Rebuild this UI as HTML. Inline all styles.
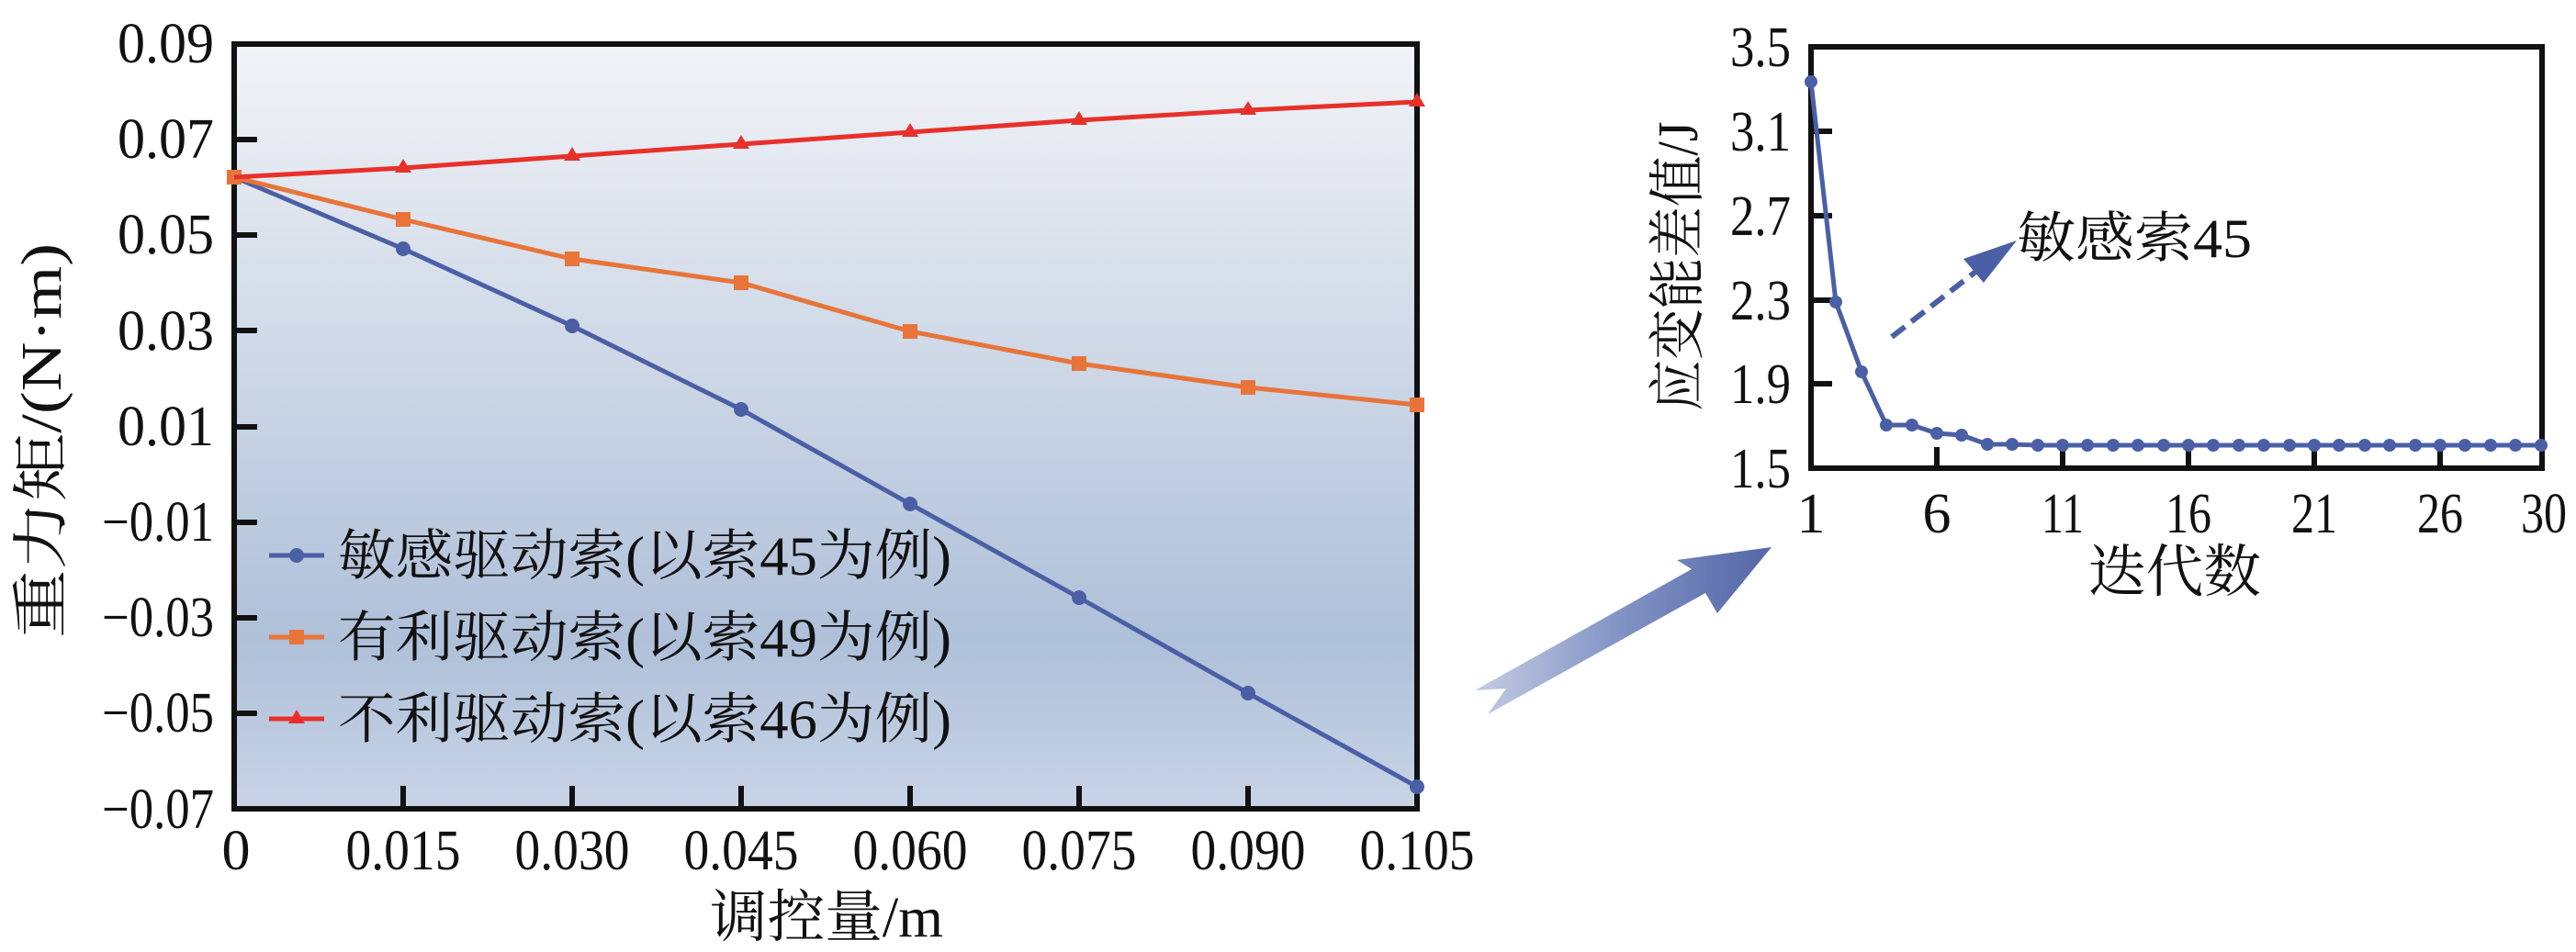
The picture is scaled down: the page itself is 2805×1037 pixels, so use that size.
<!DOCTYPE html>
<html><head><meta charset="utf-8"><style>
html,body{margin:0;padding:0;background:#fff;}
svg{display:block}
text{font-family:"Liberation Serif","Noto Serif CJK SC",serif;fill:#111;}
</style></head><body>
<svg width="2805" height="1037" viewBox="0 0 2805 1037" xmlns="http://www.w3.org/2000/svg">
<defs>
<linearGradient id="bg" x1="0" y1="0" x2="0" y2="1">
<stop offset="0" stop-color="#f2f3f7"/>
<stop offset="0.35" stop-color="#d3dce9"/>
<stop offset="0.78" stop-color="#afc0d9"/>
<stop offset="1" stop-color="#c8d4e6"/>
</linearGradient>
<linearGradient id="ar" x1="0" y1="0" x2="1" y2="0">
<stop offset="0" stop-color="#c5cde4"/>
<stop offset="0.5" stop-color="#8092c4"/>
<stop offset="1" stop-color="#5466a6"/>
</linearGradient>
</defs>

<rect x="255" y="48" width="1288" height="833" fill="url(#bg)"/>
<g stroke="#111" stroke-width="6">
<line x1="255" y1="152" x2="280" y2="152"/><line x1="255" y1="256" x2="280" y2="256"/>
<line x1="255" y1="360" x2="280" y2="360"/><line x1="255" y1="465" x2="280" y2="465"/>
<line x1="255" y1="569" x2="280" y2="569"/><line x1="255" y1="673" x2="280" y2="673"/>
<line x1="255" y1="777" x2="280" y2="777"/>
<line x1="439" y1="881" x2="439" y2="856"/><line x1="623" y1="881" x2="623" y2="856"/>
<line x1="807" y1="881" x2="807" y2="856"/><line x1="991" y1="881" x2="991" y2="856"/>
<line x1="1175" y1="881" x2="1175" y2="856"/><line x1="1359" y1="881" x2="1359" y2="856"/>
</g>
<rect x="255" y="48" width="1288" height="833" fill="none" stroke="#111" stroke-width="6"/>

<polyline fill="none" stroke="#4a5fa5" stroke-width="5" points="255,193 439,271 623,355 807,446 991,549 1175,651 1359,755 1543,857"/>
<g fill="#4a5fa5"><circle cx="439" cy="271" r="8"/><circle cx="623" cy="355" r="8"/><circle cx="807" cy="446" r="8"/><circle cx="991" cy="549" r="8"/><circle cx="1175" cy="651" r="8"/><circle cx="1359" cy="755" r="8"/><circle cx="1543" cy="857" r="8"/></g>
<polyline fill="none" stroke="#e8743a" stroke-width="5" points="255,193 439,239 623,282 807,308 991,361 1175,396 1359,422 1543,441"/>
<g fill="#e8743a"><rect x="431" y="231" width="16" height="16"/><rect x="615" y="274" width="16" height="16"/><rect x="799" y="300" width="16" height="16"/><rect x="983" y="353" width="16" height="16"/><rect x="1167" y="388" width="16" height="16"/><rect x="1351" y="414" width="16" height="16"/><rect x="1535" y="433" width="16" height="16"/><rect x="247" y="185" width="16" height="16"/></g>
<polyline fill="none" stroke="#e8302a" stroke-width="5" points="255,193 439,183 623,170 807,157 991,144 1175,131 1359,120 1543,111"/>
<g fill="#e8302a"><path d="M439,173 l9,15 h-18z"/><path d="M623,160 l9,15 h-18z"/><path d="M807,147 l9,15 h-18z"/><path d="M991,134 l9,15 h-18z"/><path d="M1175,121 l9,15 h-18z"/><path d="M1359,110 l9,15 h-18z"/><path d="M1543,101 l9,15 h-18z"/></g>

<line x1="293" y1="605" x2="353" y2="605" stroke="#4a5fa5" stroke-width="5"/><circle cx="323" cy="605" r="8" fill="#4a5fa5"/>
<line x1="293" y1="694" x2="353" y2="694" stroke="#e8743a" stroke-width="5"/><rect x="315" y="686" width="16" height="16" fill="#e8743a"/>
<line x1="293" y1="783" x2="353" y2="783" stroke="#e8302a" stroke-width="5"/><path d="M323,773 l9,15 h-18z" fill="#e8302a"/>
<g font-size="60">
<text x="368" y="626" textLength="668" lengthAdjust="spacingAndGlyphs">敏感驱动索(以索45为例)</text>
<text x="368" y="715" textLength="668" lengthAdjust="spacingAndGlyphs">有利驱动索(以索49为例)</text>
<text x="368" y="804" textLength="668" lengthAdjust="spacingAndGlyphs">不利驱动索(以索46为例)</text>
</g>

<g font-size="62" text-anchor="end">
<text x="233" y="68" textLength="105" lengthAdjust="spacingAndGlyphs">0.09</text>
<text x="233" y="172" textLength="105" lengthAdjust="spacingAndGlyphs">0.07</text>
<text x="233" y="276" textLength="105" lengthAdjust="spacingAndGlyphs">0.05</text>
<text x="233" y="381" textLength="105" lengthAdjust="spacingAndGlyphs">0.03</text>
<text x="233" y="485" textLength="105" lengthAdjust="spacingAndGlyphs">0.01</text>
<text x="233" y="589" textLength="122" lengthAdjust="spacingAndGlyphs">−0.01</text>
<text x="233" y="693" textLength="122" lengthAdjust="spacingAndGlyphs">−0.03</text>
<text x="233" y="797" textLength="122" lengthAdjust="spacingAndGlyphs">−0.05</text>
<text x="233" y="902" textLength="122" lengthAdjust="spacingAndGlyphs">−0.07</text>
</g>
<g font-size="62" text-anchor="middle">
<text x="257" y="947">0</text>
<text x="439" y="947" textLength="125" lengthAdjust="spacingAndGlyphs">0.015</text>
<text x="623" y="947" textLength="125" lengthAdjust="spacingAndGlyphs">0.030</text>
<text x="807" y="947" textLength="125" lengthAdjust="spacingAndGlyphs">0.045</text>
<text x="991" y="947" textLength="125" lengthAdjust="spacingAndGlyphs">0.060</text>
<text x="1175" y="947" textLength="125" lengthAdjust="spacingAndGlyphs">0.075</text>
<text x="1359" y="947" textLength="125" lengthAdjust="spacingAndGlyphs">0.090</text>
<text x="1543" y="947" textLength="125" lengthAdjust="spacingAndGlyphs">0.105</text>
</g>
<text x="773" y="1020" font-size="62" textLength="254" lengthAdjust="spacingAndGlyphs">调控量/m</text>
<text transform="translate(66,480) rotate(-90)" font-size="62" text-anchor="middle" textLength="430" lengthAdjust="spacingAndGlyphs">重力矩/(N·m)</text>

<polygon fill="url(#ar)" points="1929,596 1870,668 1857,646 1620,778 1640,750 1606,752 1842,620 1826,610"/>

<g stroke="#111" stroke-width="6">
<line x1="1972" y1="143" x2="1995" y2="143"/><line x1="1972" y1="235" x2="1995" y2="235"/>
<line x1="1972" y1="327" x2="1995" y2="327"/><line x1="1972" y1="418" x2="1995" y2="418"/>
<line x1="2109" y1="510" x2="2109" y2="487"/><line x1="2246" y1="510" x2="2246" y2="487"/>
<line x1="2383" y1="510" x2="2383" y2="487"/><line x1="2520" y1="510" x2="2520" y2="487"/>
<line x1="2657" y1="510" x2="2657" y2="487"/>
</g>
<rect x="1972" y="51" width="796" height="459" fill="none" stroke="#111" stroke-width="6"/>
<polyline fill="none" stroke="#4a5fa5" stroke-width="5" points="1972,89 1999,329 2027,405 2054,463 2082,463 2109,472 2136,474 2164,484 2191,484 2219,485 2246,485 2273,485 2301,485 2328,485 2356,485 2383,485 2410,485 2438,485 2465,485 2493,485 2520,485 2547,485 2575,485 2602,485 2630,485 2657,485 2684,485 2712,485 2739,485 2767,485"/>
<g fill="#4a5fa5">
<circle cx="1972" cy="89" r="7"/><circle cx="1999" cy="329" r="7"/><circle cx="2027" cy="405" r="7"/><circle cx="2054" cy="463" r="7"/><circle cx="2082" cy="463" r="7"/><circle cx="2109" cy="472" r="7"/><circle cx="2136" cy="474" r="7"/><circle cx="2164" cy="484" r="7"/><circle cx="2191" cy="484" r="7"/><circle cx="2219" cy="485" r="7"/><circle cx="2246" cy="485" r="7"/><circle cx="2273" cy="485" r="7"/><circle cx="2301" cy="485" r="7"/><circle cx="2328" cy="485" r="7"/><circle cx="2356" cy="485" r="7"/><circle cx="2383" cy="485" r="7"/><circle cx="2410" cy="485" r="7"/><circle cx="2438" cy="485" r="7"/><circle cx="2465" cy="485" r="7"/><circle cx="2493" cy="485" r="7"/><circle cx="2520" cy="485" r="7"/><circle cx="2547" cy="485" r="7"/><circle cx="2575" cy="485" r="7"/><circle cx="2602" cy="485" r="7"/><circle cx="2630" cy="485" r="7"/><circle cx="2657" cy="485" r="7"/><circle cx="2684" cy="485" r="7"/><circle cx="2712" cy="485" r="7"/><circle cx="2739" cy="485" r="7"/><circle cx="2767" cy="485" r="7"/>
</g>
<g font-size="62" text-anchor="end">
<text x="1950" y="72" textLength="66" lengthAdjust="spacingAndGlyphs">3.5</text>
<text x="1950" y="164" textLength="66" lengthAdjust="spacingAndGlyphs">3.1</text>
<text x="1950" y="256" textLength="66" lengthAdjust="spacingAndGlyphs">2.7</text>
<text x="1950" y="348" textLength="66" lengthAdjust="spacingAndGlyphs">2.3</text>
<text x="1950" y="439" textLength="66" lengthAdjust="spacingAndGlyphs">1.9</text>
<text x="1950" y="531" textLength="66" lengthAdjust="spacingAndGlyphs">1.5</text>
</g>
<g font-size="62" text-anchor="middle">
<text x="1972" y="580">1</text><text x="2109" y="580">6</text>
<text x="2246" y="580" textLength="46" lengthAdjust="spacingAndGlyphs">11</text>
<text x="2383" y="580" textLength="50" lengthAdjust="spacingAndGlyphs">16</text>
<text x="2520" y="580" textLength="50" lengthAdjust="spacingAndGlyphs">21</text>
<text x="2657" y="580" textLength="50" lengthAdjust="spacingAndGlyphs">26</text>
<text x="2770" y="580" textLength="50" lengthAdjust="spacingAndGlyphs">30</text>
</g>
<text x="2368" y="644" font-size="62" text-anchor="middle" textLength="188" lengthAdjust="spacingAndGlyphs">迭代数</text>
<text transform="translate(1848,290) rotate(-90)" font-size="62" text-anchor="middle" textLength="315" lengthAdjust="spacingAndGlyphs">应变能差值/J</text>
<text x="2196" y="280" font-size="60" textLength="256" lengthAdjust="spacingAndGlyphs">敏感索45</text>
<line x1="2060" y1="367" x2="2155" y2="293" stroke="#4a5fa5" stroke-width="6" stroke-dasharray="18,9"/>
<polygon fill="#4a5fa5" points="2196,262 2160,308 2138,282"/>
</svg>
</body></html>
